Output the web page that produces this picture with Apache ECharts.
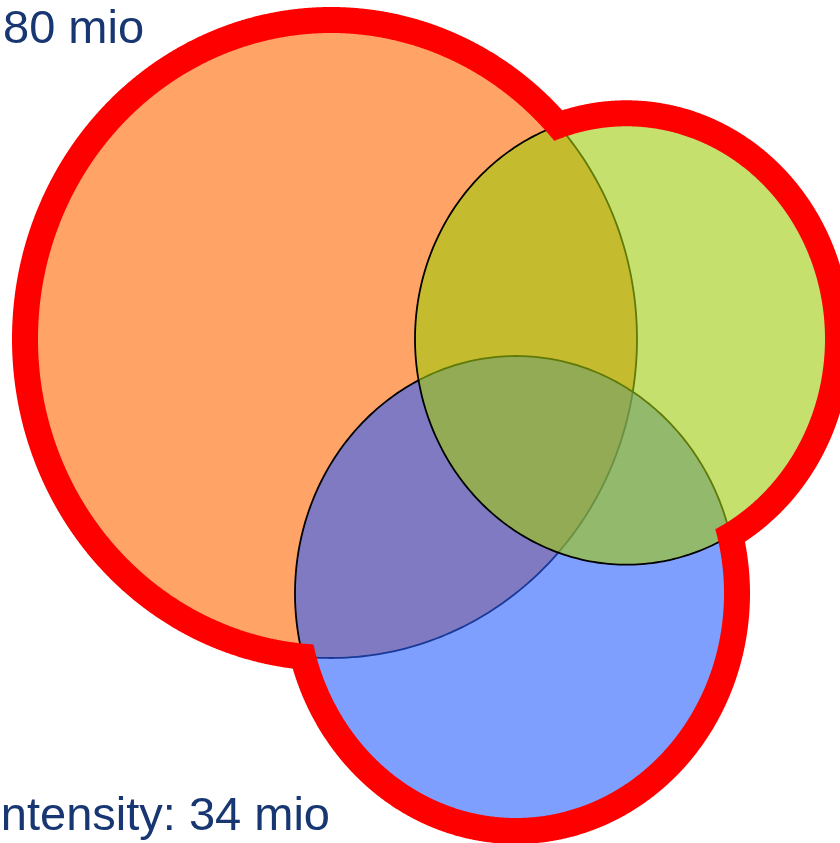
<!DOCTYPE html>
<html><head><meta charset="utf-8">
<script src="https://cdn.jsdelivr.net/npm/echarts@6/dist/echarts.min.js"></script>
<style>html,body{margin:0;padding:0;background:#fff;overflow:hidden}#c{width:840px;height:843px}</style>
</head><body><div id="c"></div>
<script>
// Sets in drawing order (bottom to top)
const setNames = ['Orange', 'Blue', 'Green'];
const centerX = [331, 516, 626.5];
const centerY = [339, 593.5, 339];
const radiusX = [306, 221, 211.5];
const radiusY = [319, 237.5, 225.7];
const labelTop = '80 mio';
const labelBottom = 'Intensity: 34 mio';

const fillColors = ['rgba(255,102,0,0.6)', 'rgba(42,95,255,0.6)', 'rgba(158,204,10,0.6)'];
const RING_HALF = 13;

function ellipsePx(api, x, y, rx, ry) {
  const c = api.coord([x, y]);
  const s = api.size([rx, ry], [x, y]);
  return {cx: c[0], cy: c[1], a: s[0], b: s[1]};
}
function ellipsePoints(e, n) {
  const pts = [];
  for (let k = 0; k < n; k++) {
    const t = 2 * Math.PI * k / n;
    pts.push([e.cx + e.a * Math.cos(t), e.cy + e.b * Math.sin(t)]);
  }
  return pts;
}
function rayExit(e, ox, oy, u, v, off) {
  const a = e.a + off, b = e.b + off;
  const dx = ox - e.cx, dy = oy - e.cy;
  const A = u*u/(a*a) + v*v/(b*b);
  const B = 2*(dx*u/(a*a) + dy*v/(b*b));
  const C = dx*dx/(a*a) + dy*dy/(b*b) - 1;
  return (-B + Math.sqrt(Math.max(0, B*B - 4*A*C))) / (2*A);
}
function unionLoop(els, ox, oy, off, N, reverse) {
  const pts = [];
  for (let k = 0; k < N; k++) {
    const ang = (reverse ? -1 : 1) * 2 * Math.PI * k / N;
    const u = Math.cos(ang), v = Math.sin(ang);
    let t = 0;
    els.forEach(e => { t = Math.max(t, rayExit(e, ox, oy, u, v, off)); });
    pts.push([ox + t*u, oy + t*v]);
  }
  return 'M' + pts.map(p => p[0].toFixed(2) + ' ' + p[1].toFixed(2)).join(' L') + ' Z';
}

const chart = echarts.init(document.getElementById('c'), null, {renderer: 'canvas'});
chart.setOption({
  animation: false,
  backgroundColor: '#ffffff',
  grid: {left: 0, right: 0, top: 0, bottom: 0},
  xAxis: {type: 'value', min: 0, max: 840, show: false},
  yAxis: {type: 'value', min: 0, max: 843, inverse: true, show: false},
  series: [
    {
      type: 'custom',
      coordinateSystem: 'cartesian2d',
      silent: true,
      z: 2,
      data: setNames.map((n, i) => ({name: n, value: [centerX[i], centerY[i], radiusX[i], radiusY[i]]})),
      renderItem: function (params, api) {
        const i = params.dataIndex;
        const e = ellipsePx(api, api.value(0), api.value(1), api.value(2), api.value(3));
        return {
          type: 'polygon',
          z2: i,
          shape: {points: ellipsePoints(e, 360)},
          style: {fill: fillColors[i], stroke: '#000000', lineWidth: 1.8}
        };
      }
    },
    {
      type: 'custom',
      coordinateSystem: 'cartesian2d',
      silent: true,
      z: 3,
      data: [[centerX[0], centerY[0]]],
      renderItem: function (params, api) {
        const els = setNames.map((n, i) => ellipsePx(api, centerX[i], centerY[i], radiusX[i], radiusY[i]));
        const ox = els.reduce((s, e) => s + e.cx, 0) / els.length;
        const oy = els.reduce((s, e) => s + e.cy, 0) / els.length;
        const d = unionLoop(els, ox, oy, RING_HALF, 2880, false) + ' ' +
                  unionLoop(els, ox, oy, -RING_HALF, 2880, true);
        return {type: 'path', shape: {pathData: d}, style: {fill: '#ff0000'}};
      }
    }
  ],
  graphic: [
    {type: 'text', x: 3, y: 30, z: 10, silent: true,
     style: {text: labelTop, font: '47px "Liberation Sans", Arial, sans-serif', fill: '#173672',
             align: 'left', textAlign: 'left', verticalAlign: 'middle', textVerticalAlign: 'middle'}},
    {type: 'text', x: 330, y: 817, z: 10, silent: true,
     style: {text: labelBottom, font: '47px "Liberation Sans", Arial, sans-serif', fill: '#173672',
             align: 'right', textAlign: 'right', verticalAlign: 'middle', textVerticalAlign: 'middle'}}
  ]
});
</script>
</body></html>
